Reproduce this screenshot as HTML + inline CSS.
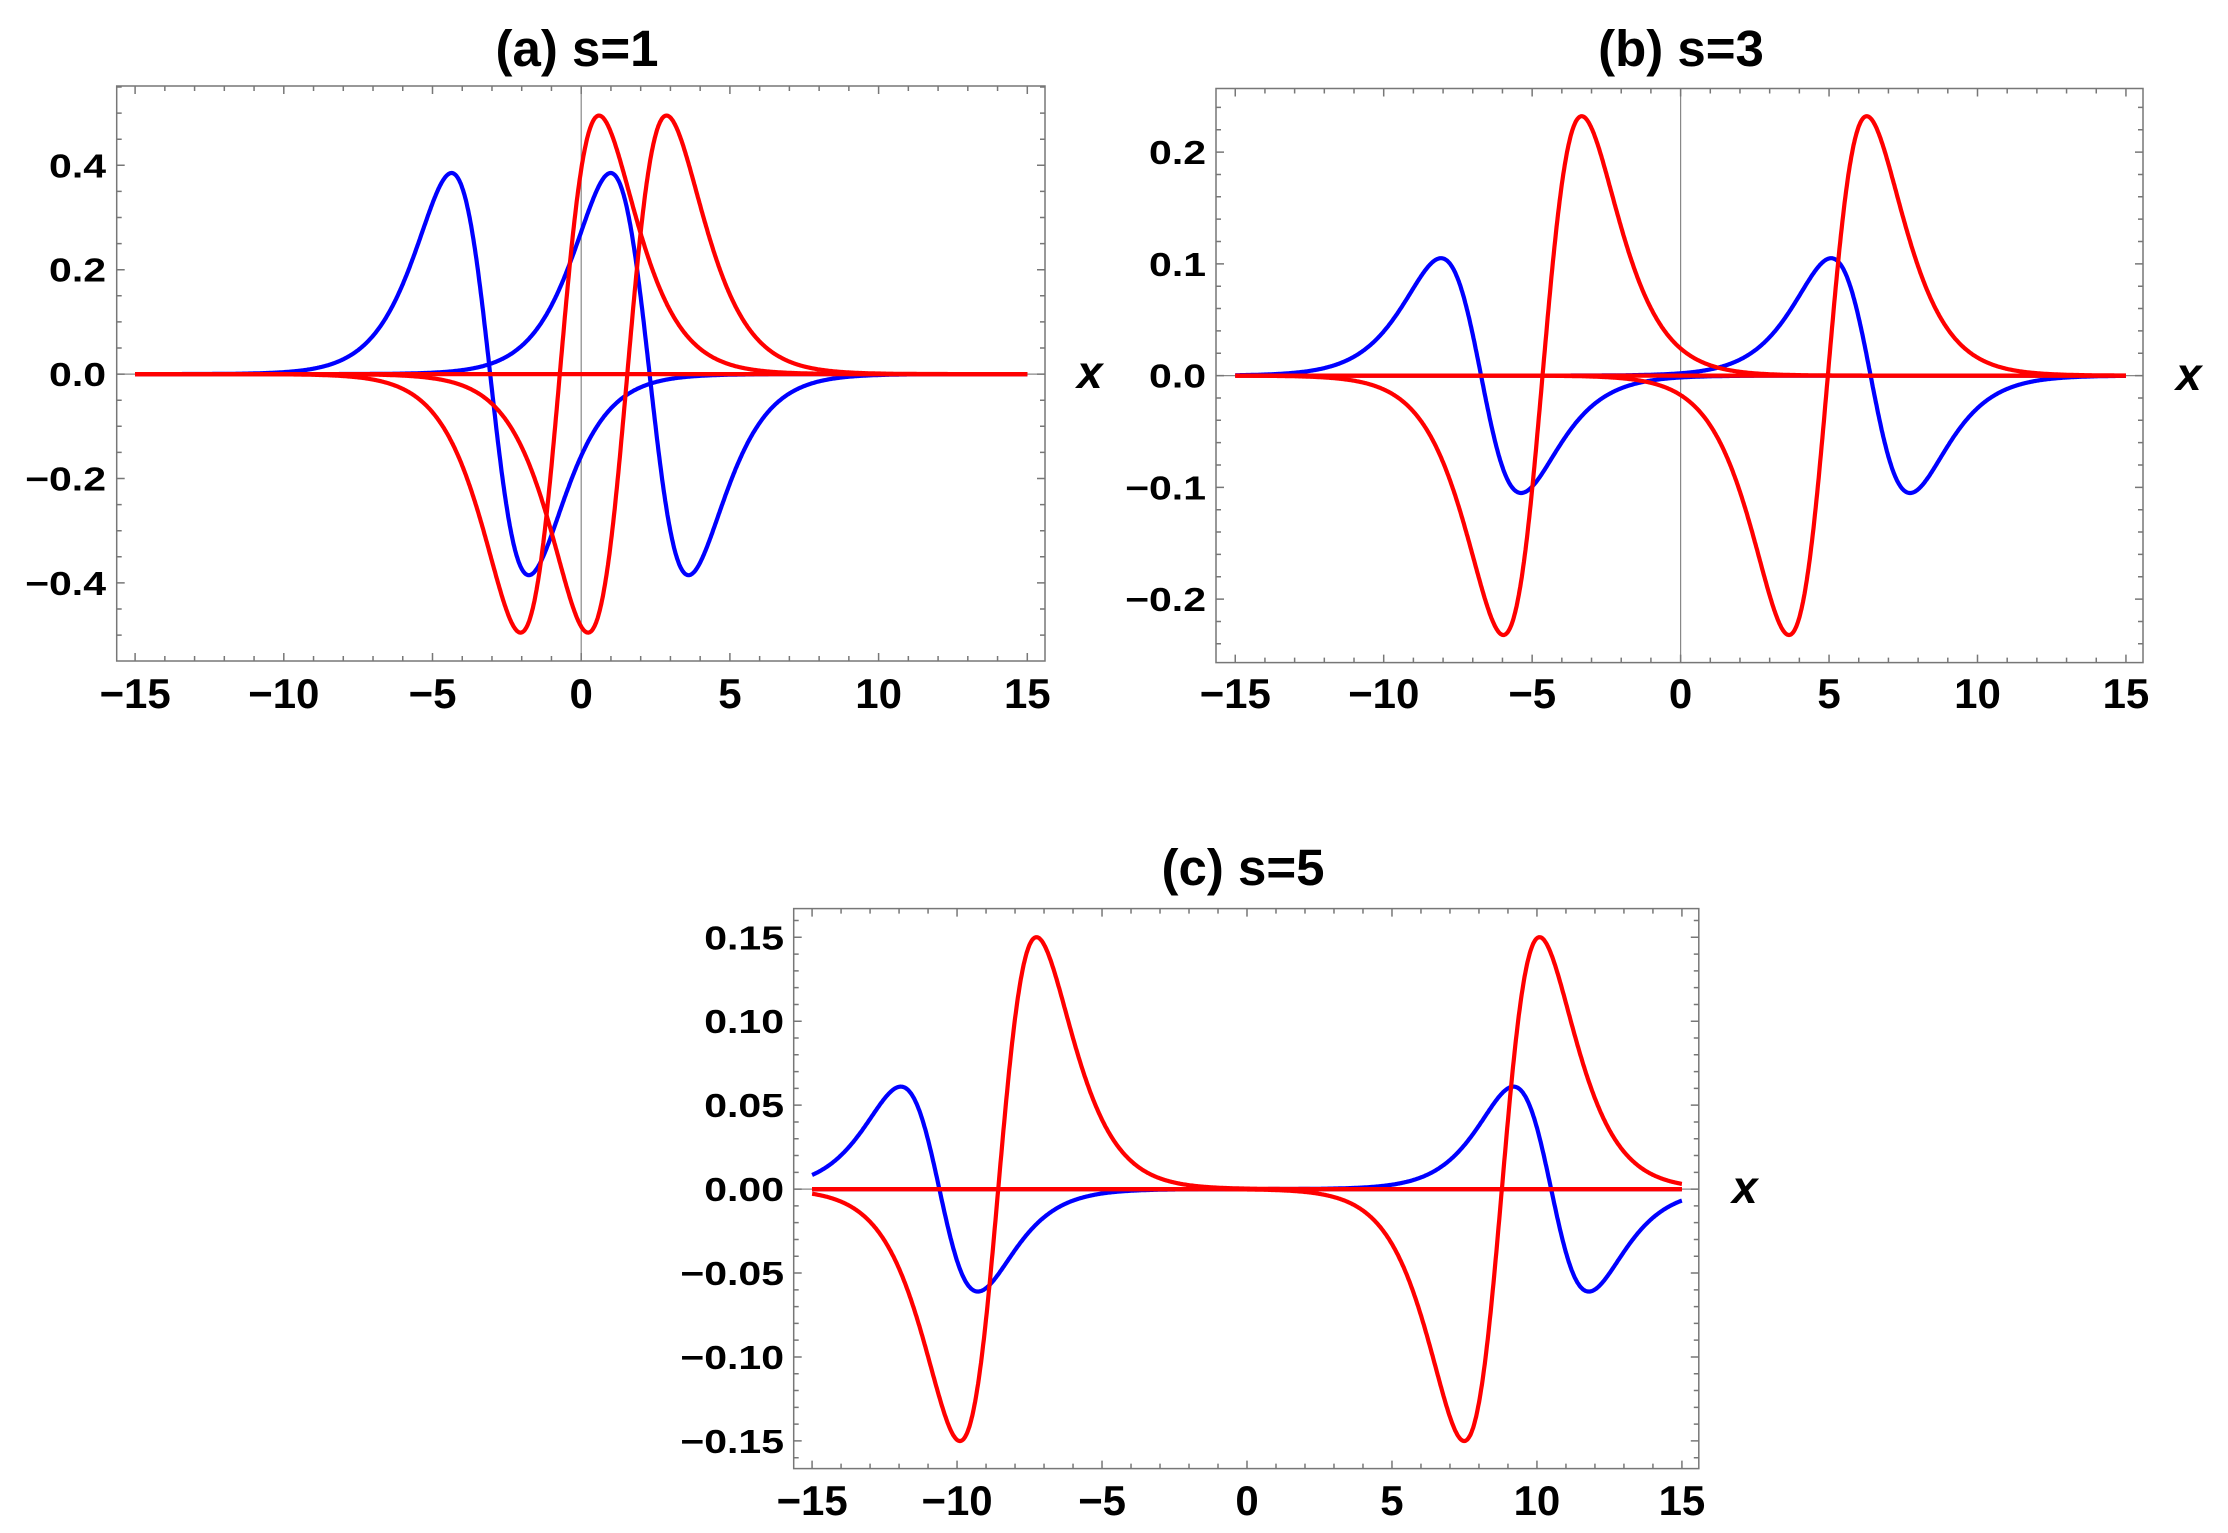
<!DOCTYPE html>
<html><head><meta charset="utf-8"><style>
html,body{margin:0;padding:0;background:#fff}
svg{display:block}
text{font-family:"Liberation Sans",Arial,sans-serif;font-weight:bold;fill:#000}
</style></head><body>
<svg id="s" xmlns="http://www.w3.org/2000/svg" width="2228" height="1533" viewBox="0 0 2228 1533"></svg>
<script>
var S=document.getElementById('s');var out='';
function g(u){var c=Math.cosh(u);return u/(c*c)/0.4475;}
function panel(P){
 var X=function(v){return P.x0+v*P.ux;}, Y=function(v){return P.y0-v*P.uy;};
 var L=P.fl,R=P.fr,T=P.ft,B=P.fb;
 out+='<line x1="'+L+'" y1="'+P.y0+'" x2="'+R+'" y2="'+P.y0+'" stroke="#888" stroke-width="1.2"/>';
 if(P.vaxis) out+='<line x1="'+P.x0+'" y1="'+T+'" x2="'+P.x0+'" y2="'+B+'" stroke="#888" stroke-width="1.2"/>';
 out+='<rect x="'+L+'" y="'+T+'" width="'+(R-L)+'" height="'+(B-T)+'" fill="none" stroke="#777" stroke-width="1.5"/>';
 var t='';
 for(var i=-15;i<=15;i++){var x=X(i),len=(i%5==0)?8:5;
  t+='M'+x+' '+B+'v'+(-len)+'M'+x+' '+T+'v'+len;}
 var n=Math.round(P.ymax/P.ymin);
 for(var j=-n;j<=n;j++){var v=j*P.ymin,y=Y(v);if(y<T||y>B)continue;var len=(j%P.mj==0)?8:5;
  t+='M'+L+' '+y+'h'+len+'M'+R+' '+y+'h'+(-len);}
 out+='<path d="'+t+'" stroke="#777" stroke-width="1.5" fill="none"/>';
 for(var i=-15;i<=15;i+=5){out+='<text x="'+X(i)+'" y="'+P.xlb+'" font-size="42" text-anchor="middle">'+(i<0?'\u2212'+(-i):i)+'</text>';}
 for(var j=-n;j<=n;j++){if(j%P.mj)continue;var v=j*P.ymin,y=Y(v);if(y<T||y>B)continue;
  var s=Math.abs(v).toFixed(P.dec);if(v<-1e-9)s='\u2212'+s;
  out+='<g transform="translate('+P.ylr+','+(y+12)+') scale(1,0.82)"><text x="0" y="0" font-size="41" text-anchor="end">'+s+'</text></g>';}
 out+='<text x="'+P.xl[0]+'" y="'+P.xl[1]+'" font-size="46" font-style="italic">x</text>';
 out+='<text x="'+P.tc[0]+'" y="'+P.tc[1]+'" font-size="51" text-anchor="middle">'+P.title+'</text>';
 function curve(A,c,h,col){var w=h/0.772,d='';
  for(var k=0;k<=1200;k++){var x=-15+30*k/1200;var v=A*g((x-c)/w);d+=(k?'L':'M')+X(x).toFixed(1)+' '+Y(v).toFixed(1);}
  out+='<path d="'+d+'" stroke="'+col+'" stroke-width="4.2" fill="none" stroke-linejoin="round"/>';}
 P.blue.forEach(function(b){curve(-P.ab,b[0],b[1],'#0000ff');});
 P.red.forEach(function(b){curve(P.ar,b[0],b[1],'#ff0000');});
 out+='<line x1="'+X(-15)+'" y1="'+P.y0+'" x2="'+X(15)+'" y2="'+P.y0+'" stroke="#ff0000" stroke-width="4.2"/>';
}
panel({x0:581.2,ux:29.74,y0:374.1,uy:522,fl:116.7,fr:1045,ft:86,fb:661,vaxis:true,
 ymin:0.05,mj:4,ymax:0.55,dec:1,ylr:106,xlb:708,xl:[1077,388],tc:[577,66],title:'(a) s=1',
 ab:0.385,ar:0.495,blue:[[-3.06,1.3],[2.3,1.31]],red:[[-0.72,1.32],[1.55,1.32]]});
panel({x0:1680.6,ux:29.69,y0:375.6,uy:1117.5,fl:1216,fr:2143,ft:88.5,fb:662.6,vaxis:true,
 ymin:0.02,mj:5,ymax:0.26,dec:1,ylr:1206,xlb:708,xl:[2176,390],tc:[1681,66],title:'(b) s=3',
 ab:0.105,ar:0.232,blue:[[-6.72,1.35],[6.4,1.33]],red:[[-4.65,1.32],[4.96,1.31]]});
panel({x0:1247,ux:28.995,y0:1189.1,uy:1678.7,fl:793.7,fr:1698.8,ft:908.6,fb:1468.6,vaxis:false,
 ymin:0.01,mj:5,ymax:0.17,dec:2,ylr:784,xlb:1515,xl:[1732,1203],tc:[1243,885],title:'(c) s=5',
 ab:0.061,ar:0.15,blue:[[-10.61,1.33],[10.49,1.3]],red:[[-8.58,1.32],[8.79,1.3]]});
S.innerHTML=out;
</script>
</body></html>
